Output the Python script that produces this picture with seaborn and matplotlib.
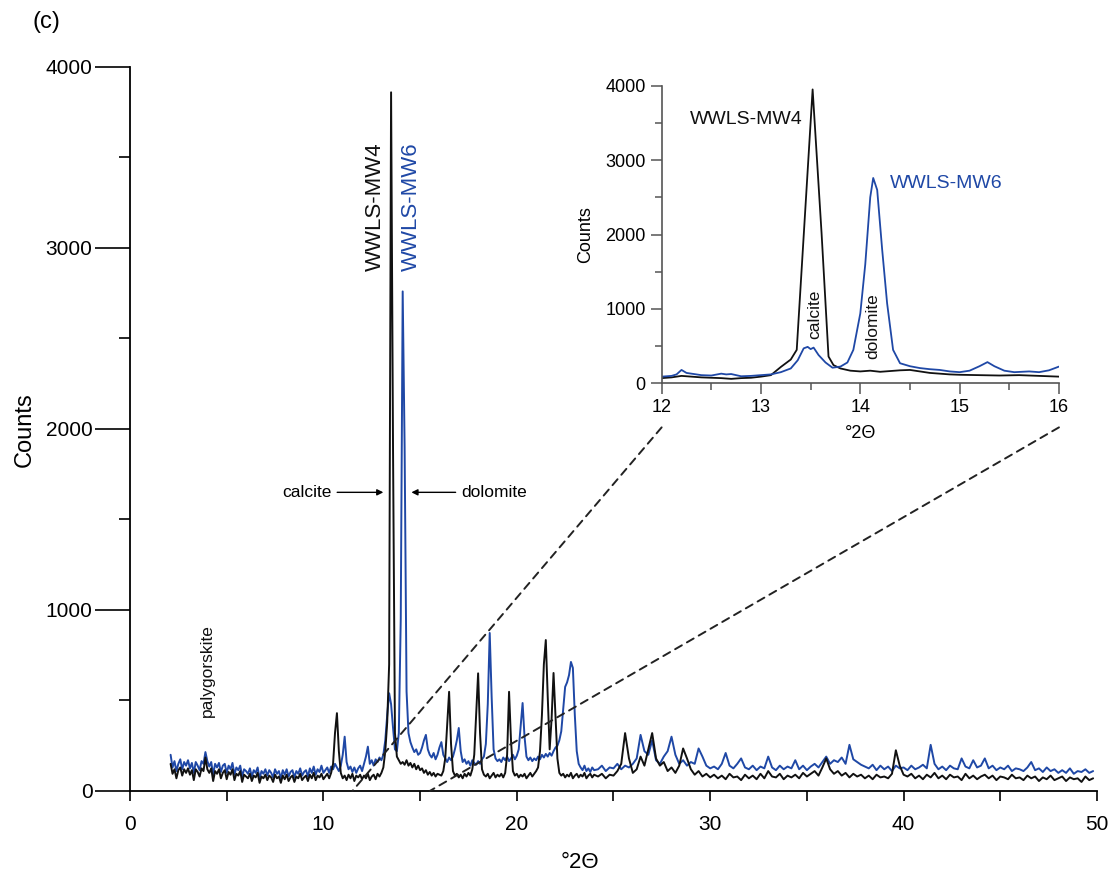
import numpy as np
import matplotlib
matplotlib.use("Agg")
import matplotlib.pyplot as plt
import seaborn as sns
from matplotlib.patches import ConnectionPatch
from matplotlib.ticker import MultipleLocator

# ---------------- data ----------------
# fine scan region (2.1 - 24.0 deg, step 0.1)
theta_fine = np.round(np.arange(21, 241) * 0.1, 1)
mw4_fine = [
    150, 95, 120, 70, 115, 130, 85, 120, 100, 125,
    90, 115, 60, 120, 105, 80, 125, 110, 185, 120,
    100, 125, 55, 110, 95, 120, 70, 100, 115, 65,
    105, 90, 120, 60, 95, 85, 110, 50, 90, 80,
    70, 95, 55, 85, 75, 100, 45, 80, 70, 90,
    60, 85, 75, 50, 90, 70, 80, 45, 85, 65,
    90, 55, 75, 85, 50, 80, 70, 95, 60, 75,
    85, 55, 90, 70, 100, 60, 85, 75, 95, 65,
    80, 95, 70, 100, 150, 320, 430, 220, 100, 70,
    85, 60, 90, 70, 95, 55, 85, 75, 90, 65,
    85, 70, 95, 60, 80, 90, 65, 95, 80, 100,
    130, 220, 380, 700, 3860, 1900, 320, 190, 170, 150,
    160, 145, 170, 140, 155, 130, 150, 120, 140, 115,
    125, 100, 115, 90, 105, 85, 100, 80, 95, 90,
    85, 110, 180, 360, 548, 260, 110, 85, 95, 75,
    90, 70, 95, 80, 100, 85, 120, 200, 420, 650,
    320, 120, 90, 80, 95, 70, 85, 100, 75, 90,
    80, 95, 75, 100, 200, 548, 280, 110, 85, 95,
    75, 90, 80, 95, 70, 85, 100, 80, 95, 110,
    130, 220, 420, 700, 834, 520, 230, 400, 652, 420,
    180, 100, 85, 95, 75, 90, 80, 100, 70, 85,
    95, 75, 90, 80, 100, 70, 85, 95, 75, 90,
]
mw6_fine = [
    200, 130, 165, 110, 150, 175, 120, 160, 140, 170,
    125, 155, 100, 160, 140, 115, 165, 150, 215, 165,
    135, 160, 90, 150, 130, 155, 105, 140, 150, 100,
    140, 120, 155, 90, 130, 115, 140, 80, 120, 110,
    95, 125, 80, 115, 100, 130, 70, 110, 95, 120,
    85, 115, 100, 75, 120, 95, 110, 70, 115, 90,
    120, 80, 105, 115, 75, 110, 95, 125, 85, 105,
    115, 80, 125, 100, 135, 90, 120, 105, 140, 100,
    115, 130, 100, 135, 120, 150, 130, 110, 140, 200,
    300, 160, 120, 135, 105, 130, 100, 125, 140, 110,
    150, 190, 245, 150, 170, 140, 175, 160, 185, 170,
    200, 280, 420, 540, 480, 350, 230, 220, 320, 950,
    2760, 1900, 550, 320, 270, 240, 215, 230, 200, 210,
    240, 280, 310, 230, 200, 185, 210, 175, 200, 240,
    270, 200, 180, 160, 185, 170, 190, 230, 280, 348,
    220, 160, 175, 150, 165, 140, 170, 155, 145, 165,
    150, 175, 190, 260, 480, 873, 520, 230, 180, 165,
    175, 160, 185, 170, 190, 165, 180, 200, 175, 195,
    230, 360, 486, 300, 190, 170, 185, 165, 180, 170,
    190, 175, 200, 185, 205, 190, 210, 195, 220, 240,
    250, 280, 330, 450, 575, 600, 640, 713, 680, 420,
    220, 150, 130, 115, 140, 110, 125, 105, 130, 115,
]
# coarse region (24.2 - 49.8 deg, step 0.2)
theta_coarse = np.round(np.arange(121, 250) * 0.2, 1)
mw4_coarse = [
    80, 95, 70, 90, 85, 110, 150, 320, 180, 100,
    120, 190, 140, 230, 320, 180, 140, 160, 110, 130,
    100, 140, 235, 180, 120, 90, 110, 80, 95, 75,
    90, 70, 85, 65, 95, 75, 80, 60, 90, 70,
    85, 65, 95, 70, 110, 80, 75, 95, 65, 85,
    75, 90, 70, 100, 80, 95, 110, 85, 130, 180,
    120, 95, 110, 85, 100, 75, 95, 80, 90, 70,
    85, 65, 90, 75, 80, 70, 95, 225, 140, 90,
    80, 95, 70, 85, 65, 90, 75, 100, 70, 85,
    65, 90, 75, 80, 60, 95, 70, 85, 65, 80,
    90, 70, 85, 60, 80, 75, 65, 90, 70, 75,
    60, 85, 70, 80, 55, 75, 65, 85, 60, 70,
    80, 55, 75, 65, 70, 50, 80, 60, 70,
]
mw6_coarse = [
    120, 140, 110, 130, 125, 150, 120, 140, 130, 150,
    180, 310, 220, 200, 280, 170, 150, 190, 220, 300,
    200, 150, 170, 140, 160, 150, 235, 190, 140, 125,
    135, 120, 150, 210, 140, 125, 150, 180, 130, 120,
    140, 115, 135, 125, 190, 130, 115, 140, 120, 135,
    125, 170, 120, 140, 115, 135, 150, 130, 160, 190,
    150, 170, 160, 185, 150, 255, 175, 160, 145, 135,
    125, 145, 115, 140, 120, 135, 110, 140, 125, 130,
    115, 140, 120, 130, 145, 125, 255, 150, 120, 135,
    115, 140, 125, 120, 180, 135, 125, 170, 130, 140,
    180, 125, 140, 115, 130, 120, 140, 110, 125, 120,
    110, 130, 160, 115, 125, 105, 130, 110, 120, 100,
    115, 100, 125, 95, 110, 105, 120, 100, 110,
]
two_theta = np.concatenate([theta_fine, theta_coarse])
counts_mw4 = np.array(mw4_fine + mw4_coarse)
counts_mw6 = np.array(mw6_fine + mw6_coarse)

# inset (12 - 16 deg)
inset_theta_mw4 = [12.0, 12.1, 12.2, 12.3, 12.4, 12.5, 12.6, 12.7, 12.8, 12.9,
                   13.0, 13.1, 13.2, 13.3, 13.36, 13.52, 13.61, 13.68, 13.73, 13.8,
                   13.9, 14.0, 14.1, 14.2, 14.3, 14.4, 14.5, 14.6, 14.7, 14.8,
                   14.9, 15.0, 15.2, 15.4, 15.6, 15.8, 16.0]
inset_counts_mw4 = [70, 80, 100, 90, 80, 75, 70, 60, 70, 75,
                    90, 110, 220, 320, 450, 3950, 2020, 360, 245, 200,
                    170, 160, 170, 155, 165, 175, 180, 160, 140, 130,
                    120, 115, 110, 105, 110, 100, 90]
inset_theta_mw6 = [12.0, 12.1, 12.15, 12.2, 12.25, 12.3, 12.4, 12.5, 12.6, 12.65,
                   12.7, 12.8, 12.9, 13.0, 13.1, 13.2, 13.3, 13.37, 13.43, 13.47,
                   13.5, 13.53, 13.58, 13.65, 13.72, 13.8, 13.87, 13.93, 14.0, 14.05,
                   14.1, 14.13, 14.17, 14.22, 14.27, 14.33, 14.4, 14.5, 14.6, 14.7,
                   14.8, 14.9, 15.0, 15.1, 15.2, 15.28, 15.35, 15.45, 15.55, 15.7,
                   15.8, 15.9, 16.0]
inset_counts_mw6 = [90, 100, 120, 180, 140, 130, 110, 105, 130, 120,
                    125, 95, 100, 110, 120, 150, 200, 310, 470, 490,
                    460, 480, 380, 280, 210, 225, 280, 450, 940, 1600,
                    2500, 2760, 2600, 1800, 1075, 450, 270, 230, 205, 190,
                    180, 160, 150, 170, 230, 285, 230, 170, 150, 160,
                    150, 175, 225]

sample_names = ["WWLS-MW4", "WWLS-MW6"]
x_ticks_main = [0, 10, 20, 30, 40, 50]
y_ticks = [0, 1000, 2000, 3000, 4000]
x_ticks_inset = [12, 13, 14, 15, 16]

# ---------------- style ----------------
sns.set_theme(style="ticks")
plt.rcParams['font.family'] = ['Liberation Sans', 'DejaVu Sans']
plt.rcParams['text.color'] = 'black'
plt.rcParams['axes.labelcolor'] = 'black'
plt.rcParams['xtick.color'] = 'black'
plt.rcParams['ytick.color'] = 'black'
plt.rcParams['axes.edgecolor'] = 'black'

BLACK = '#111111'
BLUE = '#1f48a6'

fig = plt.figure(figsize=(11.12, 8.72), dpi=100)
ax = fig.add_axes([0.1169, 0.0929, 0.8696, 0.8303])

sns.lineplot(x=two_theta, y=counts_mw6, ax=ax, color=BLUE, lw=1.4,
             estimator=None, sort=False)
sns.lineplot(x=two_theta, y=counts_mw4, ax=ax, color=BLACK, lw=1.4,
             estimator=None, sort=False)

ax.set_xlim(0, 50)
ax.set_ylim(0, 4000)
for s in ['top', 'right']:
    ax.spines[s].set_visible(False)
for s in ['left', 'bottom']:
    ax.spines[s].set_linewidth(1.3)
ax.set_xticks(x_ticks_main)
ax.xaxis.set_minor_locator(MultipleLocator(5))
ax.set_yticks(y_ticks)
ax.yaxis.set_minor_locator(MultipleLocator(500))
ax.tick_params(axis='x', which='both', direction='out', length=7, width=1.2,
               labelsize=15, pad=10)
ax.tick_params(axis='y', which='major', direction='out', length=25, width=1.2,
               labelsize=15, pad=2)
ax.tick_params(axis='y', which='minor', direction='out', length=8, width=1.2)
ax.set_xlabel('')
ax.set_ylabel('')

fig.text(25 / 1112, 1 - 430 / 872, 'Counts', rotation=90, ha='center',
         va='center', fontsize=17)
fig.text(580 / 1112, 1 - 862 / 872, '°2Θ', ha='center', va='center', fontsize=16)
fig.text(46 / 1112, 1 - 22 / 872, '(c)', ha='center', va='center', fontsize=17)

# main annotations
ax.text(12.67, 3230, sample_names[0], rotation=90, ha='center', va='center',
        fontsize=16, color=BLACK)
ax.text(14.53, 3230, sample_names[1], rotation=90, ha='center', va='center',
        fontsize=16, color=BLUE)
ax.text(3.98, 665, 'palygorskite', rotation=90, ha='center', va='center',
        fontsize=12.5, color=BLACK)
ax.annotate('calcite', xy=(13.1, 1650), xytext=(10.4, 1650), ha='right',
            va='center', fontsize=12.5,
            arrowprops=dict(arrowstyle='-|>', color='black', lw=1,
                            mutation_scale=9, shrinkA=2, shrinkB=0))
ax.annotate('dolomite', xy=(14.55, 1650), xytext=(17.15, 1650), ha='left',
            va='center', fontsize=12.5,
            arrowprops=dict(arrowstyle='-|>', color='black', lw=1,
                            mutation_scale=9, shrinkA=2, shrinkB=0))

# ---------------- inset ----------------
ax_in = fig.add_axes([0.595, 0.5604, 0.3573, 0.3413])
ax_in.set_facecolor('none')
sns.lineplot(x=inset_theta_mw4, y=inset_counts_mw4, ax=ax_in, color=BLACK,
             lw=1.3, estimator=None, sort=False)
sns.lineplot(x=inset_theta_mw6, y=inset_counts_mw6, ax=ax_in, color=BLUE,
             lw=1.3, estimator=None, sort=False)
ax_in.set_xlim(12, 16)
ax_in.set_ylim(0, 4000)
for s in ['top', 'right']:
    ax_in.spines[s].set_visible(False)
for s in ['left', 'bottom']:
    ax_in.spines[s].set_linewidth(1.2)
    ax_in.spines[s].set_color('#555555')
ax_in.set_xticks(x_ticks_inset)
ax_in.xaxis.set_minor_locator(MultipleLocator(0.5))
ax_in.set_yticks(y_ticks)
ax_in.yaxis.set_minor_locator(MultipleLocator(500))
ax_in.tick_params(axis='both', which='major', direction='out', length=8,
                  width=1.1, labelsize=13, color='#555555')
ax_in.tick_params(axis='both', which='minor', direction='out', length=5,
                  width=1.1, color='#555555')
ax_in.set_xlabel('°2Θ', fontsize=13, labelpad=6)
ax_in.set_ylabel('Counts', fontsize=13, labelpad=8)

ax_in.text(12.28, 3540, sample_names[0], ha='left', va='center', fontsize=14,
           color=BLACK)
ax_in.text(14.3, 2690, sample_names[1], ha='left', va='center', fontsize=14,
           color=BLUE)
ax_in.text(13.545, 930, 'calcite', rotation=90, ha='center', va='center',
           fontsize=12.5, color=BLACK)
ax_in.text(14.13, 770, 'dolomite', rotation=90, ha='center', va='center',
           fontsize=12.5, color=BLACK)

# dashed zoom connectors
for xa, xb in [(0, 11.5), (1, 15.5)]:
    con = ConnectionPatch(xyA=(xa, -0.148), coordsA=ax_in.transAxes,
                          xyB=(xb, 0), coordsB=ax.transData,
                          color='#222222', lw=1.4, linestyle=(0, (4, 3)))
    fig.add_artist(con)

fig.savefig('out.png', dpi=100)
